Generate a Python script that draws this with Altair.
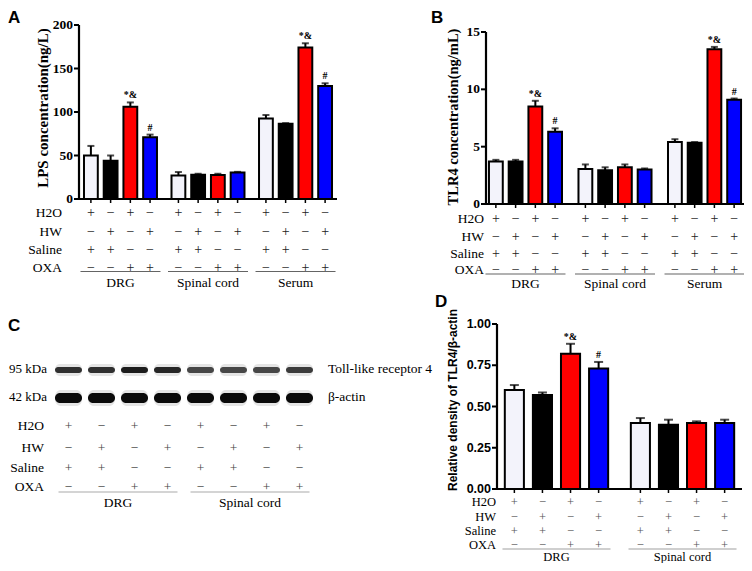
import altair as alt
import pandas as pd

# ---------------- data ----------------
treatments = ["H2O+Saline", "HW+Saline", "H2O+OXA", "HW+OXA"]
bar_colors = ["#F3F3FB", "#000000", "#FF0000", "#0000FF"]
groups_ab = ["DRG", "Spinal cord", "Serum"]
groups_cd = ["DRG", "Spinal cord"]

row_names = ["H2O", "HW", "Saline", "OXA"]
sign_h2o = ["+", "−", "+", "−"]
sign_hw = ["−", "+", "−", "+"]
sign_saline = ["+", "+", "−", "−"]
sign_oxa = ["−", "−", "+", "+"]

# Panel A: LPS concentration (ng/L)
lps_mean = [50, 44, 106, 71, 27, 28, 27.5, 30.5, 92.5, 86.5, 174, 130]
lps_err = [11, 6, 5, 3, 4, 1, 1.5, 0.7, 4, 0.7, 5, 3]
lps_sig = ["", "", "*&", "#", "", "", "", "", "", "", "*&", "#"]
lps_ticks = [0, 50, 100, 150, 200]

# Panel B: TLR4 concentration (ng/mL)
tlr4_mean = [3.7, 3.7, 8.5, 6.3, 3.05, 2.95, 3.2, 3.0, 5.4, 5.35, 13.5, 9.1]
tlr4_err = [0.15, 0.15, 0.5, 0.3, 0.4, 0.25, 0.25, 0.1, 0.25, 0.05, 0.2, 0.1]
tlr4_sig = ["", "", "*&", "#", "", "", "", "", "", "", "*&", "#"]
tlr4_ticks = [0, 5, 10, 15]

# Panel C: western blot band intensities (relative)
blot_tlr4 = [0.85, 0.85, 0.95, 0.9, 0.75, 0.75, 0.75, 0.8]
blot_actin = [1, 1, 1, 1, 1, 1, 1, 1]

# Panel D: relative density TLR4/beta-actin
dens_mean = [0.60, 0.57, 0.82, 0.73, 0.40, 0.39, 0.40, 0.40]
dens_err = [0.03, 0.015, 0.06, 0.04, 0.03, 0.03, 0.01, 0.02]
dens_sig = ["", "", "*&", "#", "", "", "", ""]
dens_ticks = [0, 0.25, 0.5, 0.75, 1.0]

SERIF = "Liberation Serif"
SANS = "Liberation Sans"


def P(v):
    return v - 8


def bar_table(groups, means, errs, sigs):
    recs = []
    k = 0
    for g in groups:
        for t in treatments:
            recs.append({"group": g, "treat": t, "mean": means[k],
                         "top": means[k] + errs[k], "sig": sigs[k]})
            k += 1
    return pd.DataFrame(recs)


def sign_table(groups):
    signs = [sign_h2o, sign_hw, sign_saline, sign_oxa]
    recs = []
    for r, name in enumerate(row_names):
        for g in groups:
            for j, t in enumerate(treatments):
                recs.append({"row": name, "group": g, "treat": t, "sign": signs[r][j]})
    return pd.DataFrame(recs)


def table_layers(groups, X, XO, c):
    st = sign_table(groups)
    layers = []
    for name, ry in zip(row_names, c["row_ys"]):
        layers.append(
            alt.Chart(st).transform_filter(alt.datum.row == name)
            .mark_text(font=SERIF, fontSize=c["sign_size"], color=c["sign_color"], baseline="middle")
            .encode(X, XO, y=alt.value(P(ry)), text="sign:N"))
        layers.append(
            alt.Chart(pd.DataFrame({"row": [name]}))
            .mark_text(font=SERIF, fontSize=c["label_size"], align="right", baseline="middle", color="black")
            .encode(x=alt.value(P(c["label_right"])), y=alt.value(P(ry)), text="row:N"))
    gdf = pd.DataFrame({"group": groups})
    layers.append(
        alt.Chart(gdf).mark_tick(orient="horizontal", size=c["ul_w"], thickness=1, color=c["ul_color"])
        .encode(X, y=alt.value(P(c["ul_y"]))))
    layers.append(
        alt.Chart(gdf).mark_text(font=SERIF, fontSize=c["group_size"], baseline="middle", color="black")
        .encode(X, y=alt.value(P(c["gl_y"])), text="group:N"))
    return layers


def letter_layer(letter, x, y):
    return alt.Chart(pd.DataFrame({"t": [letter]})).mark_text(
        font=SANS, fontSize=17, fontWeight="bold", align="left", baseline="alphabetic", color="black"
    ).encode(x=alt.value(P(x)), y=alt.value(P(y)), text="t:N")


def bar_panel(groups, means, errs, sigs, ticks, c):
    df = bar_table(groups, means, errs, sigs)
    xs = alt.Scale(domain=groups, range=[P(c["x0"]), P(c["x1"])],
                   paddingInner=c["gpi"], paddingOuter=c["gpo"])
    xo = alt.Scale(domain=treatments, paddingInner=c["opi"], paddingOuter=0)
    ys = alt.Scale(domain=[ticks[0], c["ymax"]], range=[P(c["ybot"]), P(c["ytop"])], nice=False, zero=True)
    X = alt.X("group:N", scale=xs, axis=None)
    XO = alt.XOffset("treat:N", scale=xo)
    base = alt.Chart(df)
    err = base.mark_rule(color="black", strokeWidth=2).encode(
        X, XO, y=alt.Y("mean:Q", scale=ys, axis=None), y2="top:Q")
    cap = base.mark_tick(orient="horizontal", size=c["cap"], thickness=2, color="black").encode(
        X, XO, y=alt.Y("top:Q", scale=ys, axis=None))
    bars = base.mark_bar(stroke="black", strokeWidth=2).encode(
        X, XO, y=alt.Y("mean:Q", scale=ys, axis=None),
        color=alt.Color("treat:N", scale=alt.Scale(domain=treatments, range=bar_colors), legend=None))
    sig = base.mark_text(font=SERIF, fontSize=c["sig_size"], fontWeight="bold", baseline="bottom",
                         dy=-2, color="black").encode(
        X, XO, y=alt.Y("top:Q", scale=ys, axis=None), text="sig:N")
    xticks = base.mark_rule(color="black", strokeWidth=1.5).encode(
        X, XO, y=alt.value(P(c["ybot"])), y2=alt.value(P(c["ybot"] + 4)))

    tdf = pd.DataFrame({"v": ticks, "label": [c["fmt"](v) for v in ticks]})
    adf = pd.DataFrame({"lo": [ticks[0]], "hi": [ticks[-1]]})
    yaxis = alt.Chart(adf).mark_rule(color="black", strokeWidth=2.2).encode(
        x=alt.value(P(c["x0"])), y=alt.Y("lo:Q", scale=ys, axis=None), y2="hi:Q")
    xaxis = alt.Chart(adf).mark_rule(color="black", strokeWidth=2.2).encode(
        x=alt.value(P(c["x0"])), x2=alt.value(P(c["x1"])), y=alt.Y("lo:Q", scale=ys, axis=None))
    ytick = alt.Chart(tdf).mark_rule(color="black", strokeWidth=2).encode(
        x=alt.value(P(c["x0"] - 5)), x2=alt.value(P(c["x0"])), y=alt.Y("v:Q", scale=ys, axis=None))
    ylab = alt.Chart(tdf).mark_text(font=c["tick_font"], fontSize=c["tick_size"], fontWeight="bold",
                                    align="right", baseline="middle", color="black").encode(
        x=alt.value(P(c["x0"] - 6)), y=alt.Y("v:Q", scale=ys, axis=None), text="label:N")
    title = alt.Chart(pd.DataFrame({"t": [c["title"]]})).mark_text(
        font=c["title_font"], fontSize=c["title_size"], fontWeight="bold", angle=270,
        align="center", baseline="middle", color="black").encode(
        x=alt.value(P(c["title_x"])), y=alt.value(P(c["title_y"])), text="t:N")

    layers = [err, cap, bars, sig, xticks, yaxis, xaxis, ytick, ylab, title,
              letter_layer(c["letter"], c["lx"], c["ly"])]
    layers += table_layers(groups, X, XO, c)
    return alt.layer(*layers)


cfgA = dict(x0=79, x1=337, ybot=199, ytop=25, ymax=200, gpi=0.166, gpo=0.057, opi=0.3, cap=7,
            sig_size=10, fmt=lambda v: str(int(v)), tick_font=SERIF, tick_size=13.5,
            title="LPS concentration(ng/L)", title_font=SERIF, title_size=15, title_x=43, title_y=108,
            letter="A", lx=8, ly=23,
            row_ys=[213, 232, 250, 268], label_right=62, label_size=13.5, sign_size=14,
            sign_color="#222222",
            ul_y=271.5, ul_w=80, ul_color="#222222", gl_y=283, group_size=13.5)

cfgB = dict(x0=486, x1=744, ybot=204, ytop=32, ymax=15, gpi=0.184, gpo=0.033, opi=0.3, cap=7,
            sig_size=10, fmt=lambda v: str(int(v)), tick_font=SERIF, tick_size=13.5,
            title="TLR4 concentration(ng/mL)", title_font=SERIF, title_size=14.5, title_x=454, title_y=117,
            letter="B", lx=431, ly=23,
            row_ys=[219, 237, 254, 270], label_right=484, label_size=13.5, sign_size=14,
            sign_color="#222222",
            ul_y=274, ul_w=80, ul_color="#222222", gl_y=284, group_size=13.5)

cfgD = dict(x0=497, x1=742, ybot=489, ytop=324, ymax=1.0, gpi=0.18, gpo=0.062, opi=0.32, cap=9,
            sig_size=10, fmt=lambda v: f"{v:.2f}", tick_font=SANS, tick_size=12.5,
            title="Relative density of TLR4/β-actin", title_font=SANS, title_size=12, title_x=453, title_y=400,
            letter="D", lx=435, ly=307,
            row_ys=[502, 517, 531, 545], label_right=496, label_size=12.5, sign_size=12.5,
            sign_color="#555555",
            ul_y=549, ul_w=108, ul_color="#777777", gl_y=557, group_size=12.5)

panelA = bar_panel(groups_ab, lps_mean, lps_err, lps_sig, lps_ticks, cfgA)
panelB = bar_panel(groups_ab, tlr4_mean, tlr4_err, tlr4_sig, tlr4_ticks, cfgB)
panelD = bar_panel(groups_cd, dens_mean, dens_err, dens_sig, dens_ticks, cfgD)

# ---------------- Panel C (blot) ----------------
cfgC = dict(row_ys=[426, 448, 468, 487], label_right=44, label_size=13.5, sign_size=13.5,
            sign_color="#444444",
            ul_y=492, ul_w=119, ul_color="#888888", gl_y=503, group_size=13.5)
lane_recs = []
k = 0
for g in groups_cd:
    for t in treatments:
        lane_recs.append({"group": g, "treat": t, "tlr4": blot_tlr4[k], "actin": blot_actin[k]})
        k += 1
lanes = pd.DataFrame(lane_recs)
xsC = alt.Scale(domain=groups_cd, range=[P(52), P(316)], paddingInner=0, paddingOuter=0)
xoC = alt.Scale(domain=treatments, paddingInner=0.18, paddingOuter=0.09)
XC = alt.X("group:N", scale=xsC, axis=None)
XOC = alt.XOffset("treat:N", scale=xoC)
opac = alt.Scale(domain=[0, 1], range=[0, 1])
bc = alt.Chart(lanes)
blot_layers = [
    bc.mark_bar(cornerRadius=5, color="black", opacity=0.10).encode(
        XC, XOC, y=alt.value(P(364)), y2=alt.value(P(376))),
    bc.mark_bar(cornerRadius=3, color="#111111").encode(
        XC, XOC, y=alt.value(P(367)), y2=alt.value(P(373)),
        opacity=alt.Opacity("tlr4:Q", scale=opac, legend=None)),
    bc.mark_bar(cornerRadius=6, color="black", opacity=0.10).encode(
        XC, XOC, y=alt.value(P(390)), y2=alt.value(P(406))),
    bc.mark_bar(cornerRadius=5, color="#0a0a0a").encode(
        XC, XOC, y=alt.value(P(393)), y2=alt.value(P(403)),
        opacity=alt.Opacity("actin:Q", scale=opac, legend=None)),
]
blot_text = pd.DataFrame({"left": ["95 kDa", "42 kDa"], "right": ["Toll-like receptor 4", "β-actin"]})
for i, yy in enumerate([369, 397]):
    one = blot_text.iloc[[i]]
    blot_layers.append(alt.Chart(one).mark_text(font=SERIF, fontSize=13, align="right", baseline="middle",
                                                color="black").encode(
        x=alt.value(P(47)), y=alt.value(P(yy)), text="left:N"))
    blot_layers.append(alt.Chart(one).mark_text(font=SERIF, fontSize=13.5, align="left", baseline="middle",
                                                color="black").encode(
        x=alt.value(P(328)), y=alt.value(P(yy)), text="right:N"))
blot_layers.append(letter_layer("C", 8, 331))
blot_layers += table_layers(groups_cd, XC, XOC, cfgC)
panelC = alt.layer(*blot_layers)

chart = alt.layer(panelA, panelB, panelC, panelD).resolve_scale(
    x="independent", y="independent", xOffset="independent"
).properties(
    width=736, height=555, padding=0, autosize=alt.AutoSizeParams(type="none")
).configure_view(stroke=None)

chart.save("out.html", embed_options={"renderer": "svg", "actions": False})
